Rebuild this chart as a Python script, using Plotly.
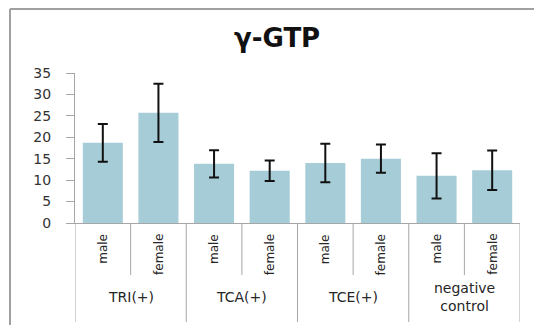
import plotly.graph_objects as go

# ---- data ----
groups = ["TRI(+)", "TCA(+)", "TCE(+)", "negative<br>control"]
sexes = ["male", "female"]
values = [18.7, 25.7, 13.8, 12.2, 14.0, 15.0, 11.0, 12.3]
errors = [4.4, 6.8, 3.2, 2.4, 4.5, 3.3, 5.3, 4.6]
y_ticks = [0, 5, 10, 15, 20, 25, 30, 35]
title_text = "γ-GTP"

# ---- geometry (page pixels; the page body adds an 8px offset) ----
OFF = 8
PW, PH = 542, 325
W, H = PW - OFF, PH - OFF
plot_left, plot_right, plot_top, plot_bottom = 75, 520, 73, 223
L = plot_left - OFF
R = PW - plot_right
T = plot_top - OFF
B = PH - plot_bottom
plot_h = plot_bottom - plot_top
plot_w = plot_right - plot_left

def py(pix):
    """page pixel y -> paper y"""
    return (plot_bottom - pix) / plot_h

def px(pix):
    return (pix - plot_left) / plot_w

xpos = list(range(len(values)))
bar_color = "#A6CCD7"
font_fam = "DejaVu Sans"
txt_color = "#262626"

fig = go.Figure()
fig.add_trace(go.Bar(
    x=xpos, y=values, width=0.72,
    marker=dict(color=bar_color, line=dict(width=0)),
    error_y=dict(type="data", array=errors, visible=True,
                 color="#111111", thickness=2, width=5),
    showlegend=False,
))

shapes = []
annotations = []
n_sub = len(sexes)
for i in range(len(values)):
    annotations.append(dict(
        x=i, y=py(232), xref="x", yref="paper", text=sexes[i % n_sub],
        textangle=-90, showarrow=False, xanchor="center", yanchor="top",
        font=dict(family=font_fam, size=12, color=txt_color)))
for g in range(len(groups)):
    shapes.append(dict(type="line", xref="x", yref="paper",
                       x0=g * n_sub + 0.5, x1=g * n_sub + 0.5,
                       y0=0, y1=py(275), line=dict(color="#A6A6A6", width=1)))
    annotations.append(dict(
        x=g * n_sub + 0.5, y=py(297), xref="x", yref="paper", text=groups[g],
        showarrow=False, xanchor="center", yanchor="middle",
        font=dict(family=font_fam, size=14, color=txt_color)))
for g in range(len(groups) + 1):
    xg = g * n_sub - 0.5
    shapes.append(dict(type="line", xref="x", yref="paper", x0=xg, x1=xg,
                       y0=0, y1=py(322), line=dict(color="#A6A6A6", width=1)))

# outer frame of the original chart (left and top edges)
shapes.append(dict(type="line", xref="paper", yref="paper",
                   x0=px(10), x1=px(PW + 5), y0=py(9), y1=py(9),
                   line=dict(color="#A0A0A0", width=2)))
shapes.append(dict(type="line", xref="paper", yref="paper",
                   x0=px(10), x1=px(10), y0=py(9), y1=py(PH + 5),
                   line=dict(color="#A0A0A0", width=2)))

annotations.append(dict(
    x=px(277), y=py(38), xref="paper", yref="paper", text="<b>" + title_text + "</b>",
    showarrow=False, xanchor="center", yanchor="middle",
    font=dict(family=font_fam, size=26, color="#111111")))

fig.update_layout(
    width=W, height=H,
    margin=dict(l=L, r=R, t=T, b=B, pad=0),
    paper_bgcolor="white", plot_bgcolor="white",
    shapes=shapes, annotations=annotations,
    xaxis=dict(range=[-0.5, len(values) - 0.5], showticklabels=False,
               ticks="", showgrid=False, zeroline=False,
               showline=True, linecolor="#A6A6A6", linewidth=1, fixedrange=True),
    yaxis=dict(range=[0, 35], tickvals=y_ticks, ticks="outside", ticklen=8,
               tickcolor="#A6A6A6", showgrid=False, zeroline=False,
               showline=True, linecolor="#A6A6A6", linewidth=1,
               ticklabelstandoff=12,
               tickfont=dict(family=font_fam, size=14, color="#333333"),
               fixedrange=True),
)

fig.write_html("out.html")
